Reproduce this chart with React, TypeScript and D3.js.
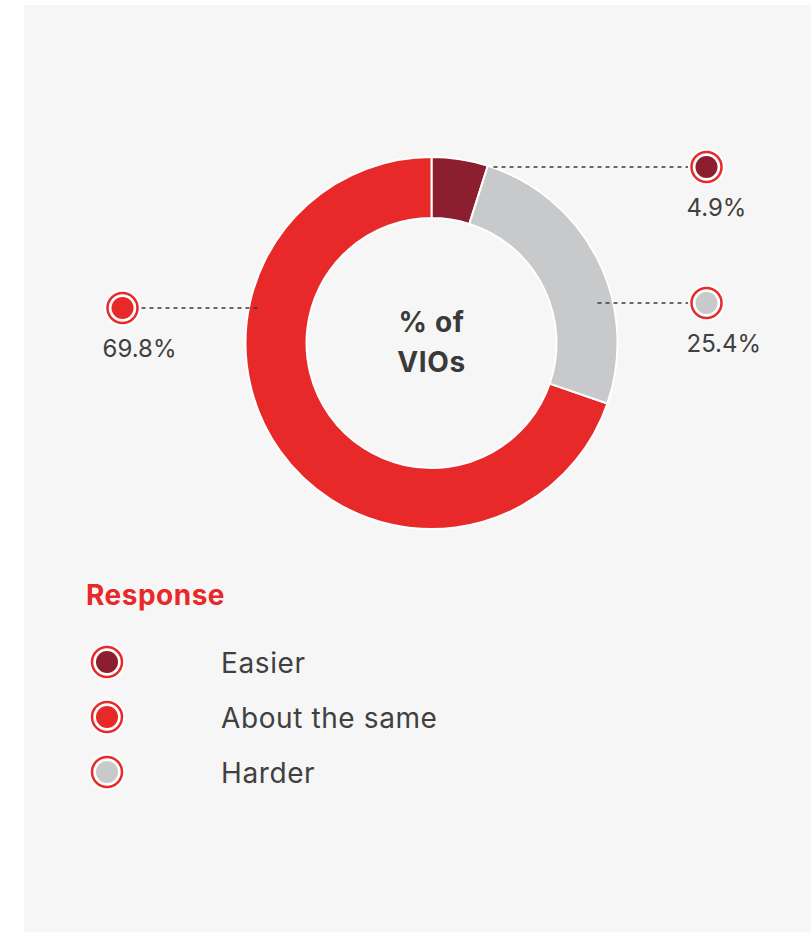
import * as d3 from 'd3'
import { useEffect, useRef } from 'react'

// dati
const categories = ['Easier', 'About the same', 'Harder']
const values = [4.9, 69.8, 25.4]
const colors = ['#8b1e2f', '#e8292a', '#c8c9cb']
// ordine in senso orario partendo dall'alto
const drawOrder = ['Easier', 'Harder', 'About the same']
const valueLabels = ['4.9%', '69.8%', '25.4%']
const centerLabel = ['% of', 'VIOs']
const legendTitle = 'Response'

const W = 811
const H = 932
const FONT = 'Inter, "Open Sans", sans-serif'

const App = () => {
    const ref = useRef<SVGSVGElement>(null)

    useEffect(() => {
        const svg = d3.select(ref.current)
        svg.selectAll('*').remove()

        const data = categories.map((c, i) => ({ name: c, value: values[i], color: colors[i], label: valueLabels[i] }))

        // sfondo
        svg.append('rect')
            .attr('x', 24).attr('y', 5)
            .attr('width', W - 24).attr('height', H - 5)
            .attr('fill', '#f6f6f6')

        const cx = 431.5
        const cy = 343
        const outer = 186
        const inner = 125

        const pie = d3.pie<any>()
            .value(d => d.value)
            .sort((a, b) => drawOrder.indexOf(a.name) - drawOrder.indexOf(b.name))

        const arc = d3.arc<any>().innerRadius(inner).outerRadius(outer)

        const g = svg.append('g').attr('transform', `translate(${cx},${cy})`)

        g.selectAll('path.slice')
            .data(pie(data))
            .enter()
            .append('path')
            .attr('class', 'slice')
            .attr('d', arc)
            .attr('fill', d => d.data.color)
            .attr('stroke', '#ffffff')
            .attr('stroke-width', 2)

        // testo centrale
        g.selectAll('text.center')
            .data(centerLabel)
            .enter()
            .append('text')
            .attr('class', 'center')
            .attr('x', 0)
            .attr('y', (d, i) => -11 + i * 40)
            .attr('text-anchor', 'middle')
            .attr('font-family', FONT)
            .attr('font-weight', 700)
            .attr('font-size', 28)
            .attr('letter-spacing', 0.6)
            .attr('fill', '#3a3a3a')
            .text(d => d)

        // richiami: posizione della linea rispetto al centro
        const callouts: Record<string, { dy: number, x1: number, mx: number }> = {
            'Easier': { dy: -176, x1: 62, mx: 275 },
            'Harder': { dy: -40, x1: 166, mx: 275 },
            'About the same': { dy: -35, x1: -174, mx: -309 },
        }

        const marker = (sel: any, x: number, y: number, fill: string) => {
            sel.append('circle').attr('cx', x).attr('cy', y).attr('r', 18.5).attr('fill', '#ffffff')
            sel.append('circle').attr('cx', x).attr('cy', y).attr('r', 15).attr('fill', '#ffffff')
                .attr('stroke', '#e8292a').attr('stroke-width', 2.5)
            sel.append('circle').attr('cx', x).attr('cy', y).attr('r', 11).attr('fill', fill)
        }

        data.forEach(d => {
            const c = callouts[d.name]
            const y = c.dy
            const mEdge = c.mx > 0 ? c.mx - 17 : c.mx + 17
            g.append('line')
                .attr('x1', c.x1).attr('x2', mEdge)
                .attr('y1', y).attr('y2', y)
                .attr('stroke', '#3a3a3a')
                .attr('stroke-width', 1.4)
                .attr('stroke-dasharray', '4,4')
            marker(g, c.mx, y, d.color)
            g.append('text')
                .attr('x', c.mx - 20)
                .attr('y', y + 49)
                .attr('font-family', FONT)
                .attr('font-size', 24)
                .attr('fill', '#404040')
                .text(d.label)
        })

        // legenda
        const legend = svg.append('g')
        legend.append('text')
            .attr('x', 86).attr('y', 605)
            .attr('font-family', FONT)
            .attr('font-weight', 700)
            .attr('font-size', 28)
            .attr('letter-spacing', 0.5)
            .attr('fill', '#e8292a')
            .text(legendTitle)

        const ly = d3.scalePoint().domain(categories).range([662, 772])

        data.forEach(d => {
            marker(legend, 107, ly(d.name)!, d.color)
            legend.append('text')
                .attr('x', 221)
                .attr('y', ly(d.name)! + 11)
                .attr('font-family', FONT)
                .attr('font-size', 28)
                .attr('letter-spacing', 0.6)
                .attr('fill', '#404040')
                .text(d.name)
        })
    }, [])

    return (
        <svg
            ref={ref}
            width={W}
            height={H}
            style={{ position: 'absolute', left: 0, top: 0, background: '#ffffff' }}
        ></svg>
    )
}

export default App
